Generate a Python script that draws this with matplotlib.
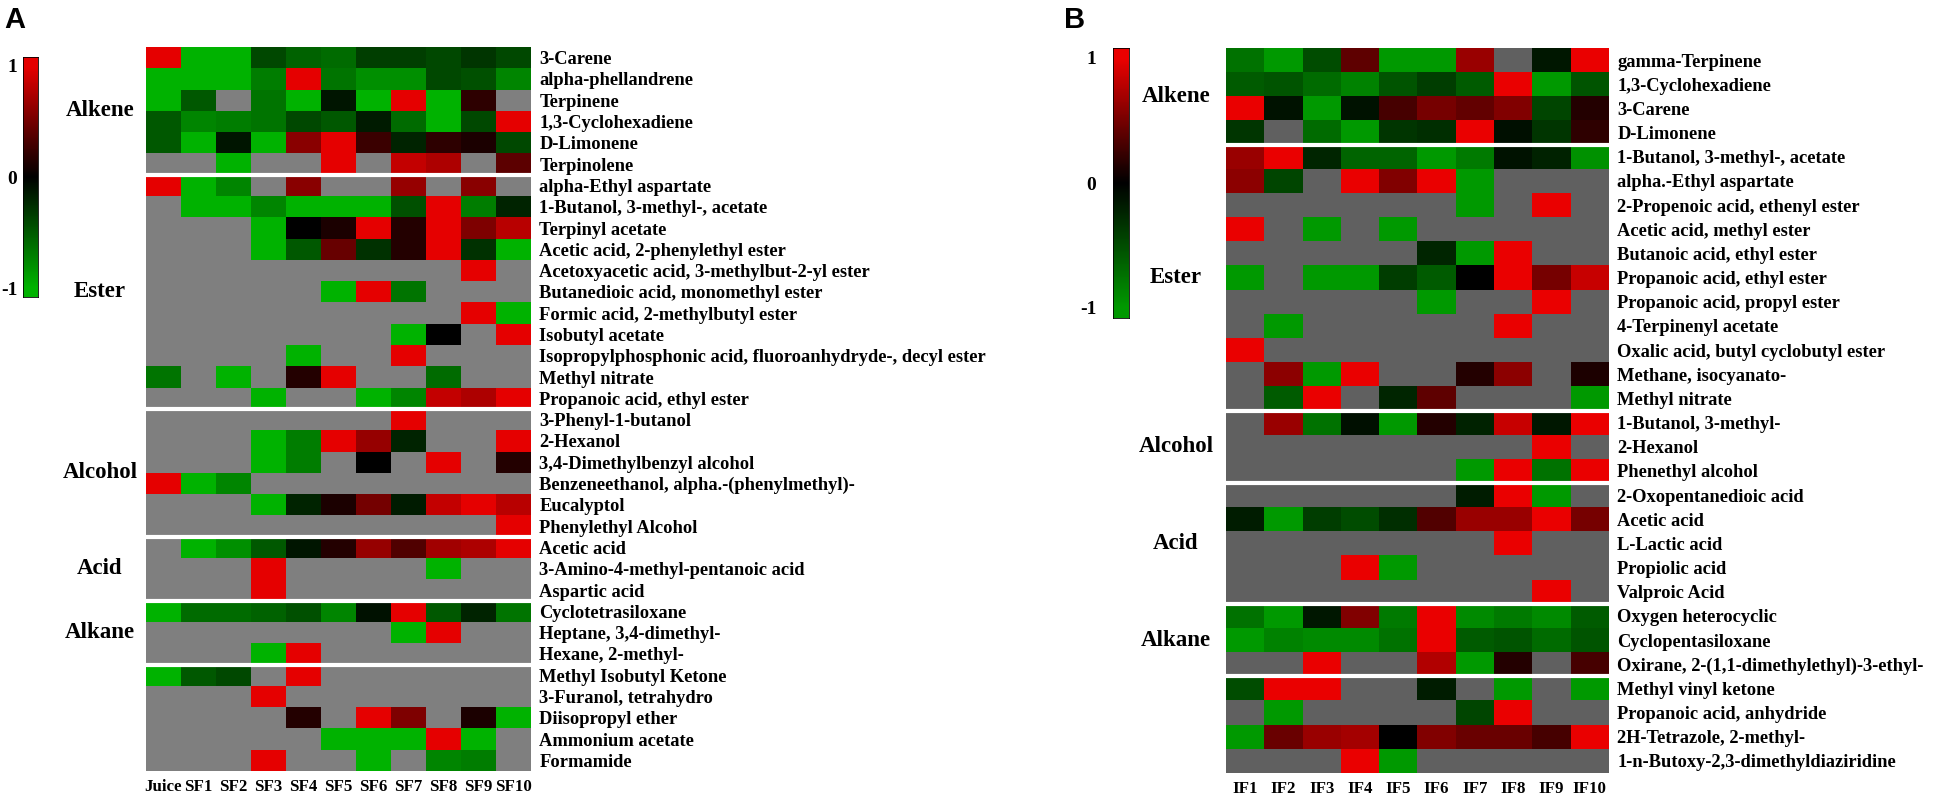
import numpy as np
import matplotlib
matplotlib.use('Agg')
import matplotlib.pyplot as plt
from matplotlib.colors import LinearSegmentedColormap
import matplotlib.transforms as mtransforms

n = np.nan

# ---------------- panel A : juice and SF samples ----------------
a_cols = ['Juice', 'SF1', 'SF2', 'SF3', 'SF4', 'SF5', 'SF6', 'SF7', 'SF8', 'SF9', 'SF10']
a_groups = ['Alkene', 'Ester', 'Alcohol', 'Acid', 'Alkane', '']

a_alkene_names = ['3-Carene', 'alpha-phellandrene', 'Terpinene', '1,3-Cyclohexadiene',
                  'D-Limonene', 'Terpinolene']
a_alkene = [
    [1, -1, -1, -0.4, -0.55, -0.6, -0.35, -0.35, -0.4, -0.3, -0.4],
    [-1, -1, -1, -0.7, 1, -0.65, -0.8, -0.8, -0.4, -0.45, -0.75],
    [-1, -0.5, n, -0.65, -1, -0.12, -1, 1, -1, 0.2, n],
    [-0.5, -0.75, -0.7, -0.65, -0.4, -0.5, -0.15, -0.6, -1, -0.4, 1],
    [-0.5, -1, -0.12, -1, 0.6, 1, 0.25, -0.2, 0.2, 0.12, -0.4],
    [n, n, -1, n, n, 1, n, 0.85, 0.75, n, 0.4],
]

a_ester_names = ['alpha-Ethyl aspartate', '1-Butanol, 3-methyl-, acetate', 'Terpinyl acetate',
                 'Acetic acid, 2-phenylethyl ester', 'Acetoxyacetic acid, 3-methylbut-2-yl ester',
                 'Butanedioic acid, monomethyl ester', 'Formic acid, 2-methylbutyl ester',
                 'Isobutyl acetate', 'Isopropylphosphonic acid, fluoroanhydryde-, decyl ester',
                 'Methyl nitrate', 'Propanoic acid, ethyl ester']
a_ester = [
    [1, -1, -0.75, n, 0.6, n, n, 0.65, n, 0.6, n],
    [n, -1, -1, -0.75, -1, -1, -1, -0.45, 1, -0.7, -0.2],
    [n, n, n, -1, 0, 0.12, 1, 0.15, 1, 0.55, 0.8],
    [n, n, n, -1, -0.5, 0.45, -0.28, 0.15, 1, -0.28, -1],
    [n, n, n, n, n, n, n, n, n, 1, n],
    [n, n, n, n, n, -1, 1, -0.65, n, n, n],
    [n, n, n, n, n, n, n, n, n, 1, -1],
    [n, n, n, n, n, n, n, -1, 0, n, 1],
    [n, n, n, n, -1, n, n, 1, n, n, n],
    [-0.65, n, -1, n, 0.15, 1, n, n, -0.6, n, n],
    [n, n, n, -1, n, n, -1, -0.75, 0.85, 0.75, 1],
]

a_alcohol_names = ['3-Phenyl-1-butanol', '2-Hexanol', '3,4-Dimethylbenzyl alcohol',
                   'Benzeneethanol, alpha.-(phenylmethyl)-', 'Eucalyptol', 'Phenylethyl Alcohol']
a_alcohol = [
    [n, n, n, n, n, n, n, 1, n, n, n],
    [n, n, n, -1, -0.7, 1, 0.65, -0.2, n, n, 1],
    [n, n, n, -1, -0.7, n, 0, n, 1, n, 0.15],
    [1, -1, -0.75, n, n, n, n, n, n, n, n],
    [n, n, n, -1, -0.2, 0.12, 0.5, -0.15, 0.85, 1, 0.8],
    [n, n, n, n, n, n, n, n, n, n, 1],
]

a_acid_names = ['Acetic acid', '3-Amino-4-methyl-pentanoic acid', 'Aspartic acid']
a_acid = [
    [n, -1, -0.8, -0.5, -0.12, 0.15, 0.65, 0.35, 0.7, 0.75, 1],
    [n, n, n, 1, n, n, n, n, -1, n, n],
    [n, n, n, 1, n, n, n, n, n, n, n],
]

a_alkane_names = ['Cyclotetrasiloxane', 'Heptane, 3,4-dimethyl-', 'Hexane, 2-methyl-']
a_alkane = [
    [-1, -0.6, -0.6, -0.55, -0.45, -0.75, -0.1, 1, -0.5, -0.2, -0.65],
    [n, n, n, n, n, n, n, -1, 1, n, n],
    [n, n, n, -1, 1, n, n, n, n, n, n],
]

a_other_names = ['Methyl Isobutyl Ketone', '3-Furanol, tetrahydro', 'Diisopropyl ether',
                 'Ammonium acetate', 'Formamide']
a_other = [
    [-1, -0.5, -0.4, n, 1, n, n, n, n, n, n],
    [n, n, n, 1, n, n, n, n, n, n, n],
    [n, n, n, n, 0.15, n, 1, 0.55, n, 0.12, -1],
    [n, n, n, n, n, -1, -1, -1, 1, -1, n],
    [n, n, n, 1, n, n, -1, n, -0.75, -0.7, n],
]

# ---------------- panel B : IF samples ----------------
b_cols = ['IF1', 'IF2', 'IF3', 'IF4', 'IF5', 'IF6', 'IF7', 'IF8', 'IF9', 'IF10']
b_groups = ['Alkene', 'Ester', 'Alcohol', 'Acid', 'Alkane', '']

b_alkene_names = ['gamma-Terpinene', '1,3-Cyclohexadiene', '3-Carene', 'D-Limonene']
b_alkene = [
    [-0.75, -1, -0.5, 0.4, -1, -1, 0.65, n, -0.15, 1],
    [-0.6, -0.55, -0.7, -0.85, -0.55, -0.4, -0.6, 1, -1, -0.55],
    [1, -0.12, -1, -0.12, 0.3, 0.5, 0.42, 0.55, -0.45, 0.15],
    [-0.35, n, -0.7, -1, -0.35, -0.3, 1, -0.1, -0.35, 0.2],
]

b_ester_names = ['1-Butanol, 3-methyl-, acetate', 'alpha.-Ethyl aspartate',
                 '2-Propenoic acid, ethenyl ester', 'Acetic acid, methyl ester',
                 'Butanoic acid, ethyl ester', 'Propanoic acid, ethyl ester',
                 'Propanoic acid, propyl ester', '4-Terpinenyl acetate',
                 'Oxalic acid, butyl cyclobutyl ester', 'Methane, isocyanato-', 'Methyl nitrate']
b_ester = [
    [0.65, 1, -0.25, -0.65, -0.65, -1, -0.8, -0.12, -0.22, -0.95],
    [0.6, -0.45, n, 1, 0.55, 1, -1, n, n, n],
    [n, n, n, n, n, n, -1, n, 1, n],
    [1, n, -1, n, -1, n, n, n, n, n],
    [n, n, n, n, n, -0.25, -1, 1, n, n],
    [-1, n, -1, -1, -0.4, -0.6, 0, 1, 0.5, 0.85],
    [n, n, n, n, n, -1, n, n, 1, n],
    [n, -1, n, n, n, n, n, 1, n, n],
    [1, n, n, n, n, n, n, n, n, n],
    [n, 0.6, -1, 1, n, n, 0.15, 0.6, n, 0.12],
    [n, -0.6, 1, n, -0.25, 0.4, n, n, n, -1],
]

b_alcohol_names = ['1-Butanol, 3-methyl-', '2-Hexanol', 'Phenethyl alcohol']
b_alcohol = [
    [n, 0.65, -0.75, -0.1, -1, 0.15, -0.22, 0.85, -0.15, 1],
    [n, n, n, n, n, n, n, n, 1, n],
    [n, n, n, n, n, n, -1, 1, -0.75, 1],
]

b_acid_names = ['2-Oxopentanedioic acid', 'Acetic acid', 'L-Lactic acid', 'Propiolic acid',
                'Valproic Acid']
b_acid = [
    [n, n, n, n, n, n, -0.18, 1, -1, n],
    [-0.18, -1, -0.4, -0.5, -0.3, 0.35, 0.65, 0.65, 1, 0.5],
    [n, n, n, n, n, n, n, 1, n, n],
    [n, n, n, 1, -1, n, n, n, n, n],
    [n, n, n, n, n, n, n, n, 1, n],
]

b_alkane_names = ['Oxygen heterocyclic', 'Cyclopentasiloxane',
                  'Oxirane, 2-(1,1-dimethylethyl)-3-ethyl-']
b_alkane = [
    [-0.75, -1, -0.15, 0.55, -0.8, 1, -0.9, -0.8, -0.9, -0.6],
    [-1, -0.85, -0.9, -0.9, -0.75, 1, -0.6, -0.55, -0.7, -0.55],
    [n, n, 1, n, n, 0.75, -1, 0.15, n, 0.3],
]

b_other_names = ['Methyl vinyl ketone', 'Propanoic acid, anhydride', '2H-Tetrazole, 2-methyl-',
                 '1-n-Butoxy-2,3-dimethyldiaziridine']
b_other = [
    [-0.5, 1, 1, n, n, -0.18, n, -1, n, -1],
    [n, -1, n, n, n, n, -0.45, 1, n, n],
    [-1, 0.45, 0.65, 0.7, 0, 0.55, 0.45, 0.45, 0.3, 1],
    [n, n, n, 1, -1, n, n, n, n, n],
]

plt.rcParams['font.family'] = ['Liberation Serif', 'DejaVu Serif']
plt.rcParams['font.weight'] = 'bold'

W, H = 1955, 797
fig = plt.figure(figsize=(W / 100, H / 100), dpi=100)


def px(x0, y0, x1, y1):
    # pixel box -> figure fraction rect
    return [x0 / W, 1 - y1 / H, (x1 - x0) / W, (y1 - y0) / H]


def draw_panel(letter, letter_x, hm_box, cb_box, cb_pad, grp_x, cols, groups, names, values,
               green, red, grey):
    cmap = LinearSegmentedColormap.from_list('gkr', [green, 'black', red])
    cmap.set_bad(grey)

    ax = fig.add_axes(px(*hm_box))
    data = np.array([row for g in values for row in g], dtype=float)
    ax.imshow(np.ma.masked_invalid(data), cmap=cmap, vmin=-1, vmax=1, aspect='auto',
              interpolation='nearest')

    labels = [nm for g in names for nm in g]
    ax.set_xticks(range(len(cols)))
    ax.set_xticklabels(cols, fontsize=12.2, fontweight='bold')
    ax.set_yticks(range(len(labels)))
    ax.set_yticklabels(labels, fontsize=13.3, fontweight='bold')
    ax.yaxis.tick_right()
    ax.tick_params(length=0, pad=6)
    ax.tick_params(axis='x', pad=6)
    for s in ax.spines.values():
        s.set_visible(False)

    # white separators between compound classes + class names
    trans = mtransforms.blended_transform_factory(fig.transFigure, ax.transData)
    start = 0
    for gname, g in zip(groups, values):
        end = start + len(g)
        if end < len(labels):
            ax.axhline(end - 0.5, color='white', lw=3)
        if gname:
            ax.text(grp_x / W, (start + end - 1) / 2, gname, transform=trans, ha='center',
                    va='center', fontsize=16.5, fontweight='bold')
        start = end

    # colour key
    cax = fig.add_axes(px(*cb_box))
    grad = np.linspace(-1.08, 1.08, 256)[:, None]
    cax.imshow(grad, cmap=cmap, vmin=-1, vmax=1, aspect='auto', origin='lower',
               extent=[0, 1, -1.08, 1.08])
    cax.set_xticks([])
    cax.set_yticks([1, 0, -1])
    cax.set_yticklabels(['1', '0', '-1'], fontsize=14, fontweight='bold')
    cax.tick_params(length=0, pad=cb_pad)
    for s in cax.spines.values():
        s.set_linewidth(0.6)

    fig.text(letter_x / W, 1 - 28 / H, letter, family='Liberation Sans', fontsize=21,
             fontweight='bold', va='baseline')


draw_panel('A', 4, (146, 47, 531, 771), (23, 57, 38, 297), 4, 100, a_cols, a_groups,
           [a_alkene_names, a_ester_names, a_alcohol_names, a_acid_names, a_alkane_names,
            a_other_names],
           [a_alkene, a_ester, a_alcohol, a_acid, a_alkane, a_other],
           (0, 0.70, 0), (0.90, 0, 0), '#7f7f7f')

draw_panel('B', 1064, (1226, 48, 1609, 773), (1113, 48, 1129, 318), 12, 1176, b_cols, b_groups,
           [b_alkene_names, b_ester_names, b_alcohol_names, b_acid_names, b_alkane_names,
            b_other_names],
           [b_alkene, b_ester, b_alcohol, b_acid, b_alkane, b_other],
           (0, 0.60, 0), (0.92, 0, 0), '#606060')

fig.savefig('out.png', dpi=100)
